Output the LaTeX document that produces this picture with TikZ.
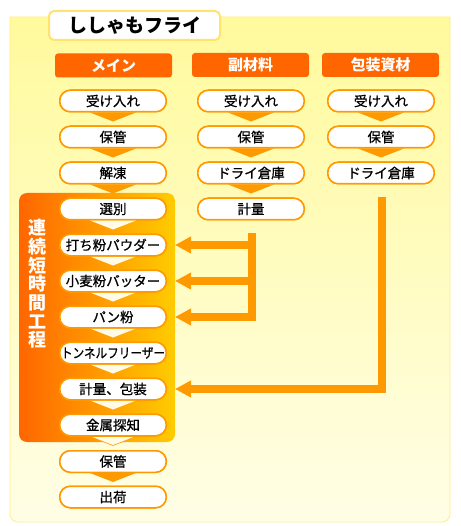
\documentclass[tikz,border=0pt]{standalone}
\usepackage{fontspec}
\newfontfamily\jp{Noto Sans CJK JP}
\newfontfamily\jpm{Noto Sans CJK JP}[FakeBold=0.8]
\usetikzlibrary{arrows.meta,calc}
\definecolor{oD}{HTML}{FF6600}
\definecolor{oL}{HTML}{FF9900}
\definecolor{gold}{HTML}{FFCC00}
\definecolor{bgT}{HTML}{FFFA9C}
\definecolor{bgB}{HTML}{FFFEE6}
\definecolor{bgEdge}{HTML}{FFEE88}
\definecolor{titleEdge}{HTML}{FFE36E}
\definecolor{paleTri}{HTML}{FFFBE6}
\begin{document}
\begin{tikzpicture}[x=1pt,y=-1pt,
  stepbox/.style={draw=oL, line width=1.5pt, fill=white, rounded corners=10.5pt,
    minimum width=106.5pt, minimum height=21.5pt, inner sep=0pt,
    font=\jpm\fontsize{13.5}{14}\selectfont},
  headbox/.style={fill=oD, rounded corners=3pt, minimum width=117pt, minimum height=24pt,
    inner sep=0pt, text=white, font=\jp\bfseries\fontsize{15}{16}\selectfont},
  conn/.style={draw=oL, line width=8pt, line join=miter, -{Triangle[length=16pt,width=16pt]}}
]
\useasboundingbox (0,0) rectangle (460,526);
% background panel
\shade[top color=bgT, bottom color=bgB, draw=bgEdge, line width=0.8pt]
  (10,17) -- (450,17) -- (450,514) .. controls (450,518.4) and (446.4,522) .. (442,522)
  -- (18,522) .. controls (13.6,522) and (10,518.4) .. (10,514) -- cycle;
% title
\node[draw=titleEdge, line width=2pt, fill=white, rounded corners=5pt,
  minimum width=171pt, minimum height=29pt, inner sep=0pt,
  font=\jp\bfseries\fontsize{19}{20}\selectfont] (title) at (134.5,25.5) {ししゃもフライ};
% headers
\node[headbox] (h1) at (113.5,65.5) {メイン};
\node[headbox] (h2) at (250.5,65) {副材料};
\node[headbox] (h3) at (380.5,65) {包装資材};
% continuous process region
\shade[left color=oD, right color=gold, rounded corners=8pt] (19,193) rectangle (175,442);
\node[text=white, align=center, inner sep=0pt,
  font=\jp\bfseries\fontsize{18}{18.7}\selectfont] (vt) at (37,284)
  {連\\続\\短\\時\\間\\工\\程};
% step nodes (positions)
\path
  (113,101) node[stepbox] (a1) {受け入れ}
  (113,137) node[stepbox] (a2) {保管}
  (113,173) node[stepbox] (a3) {解凍}
  (113,209) node[stepbox] (a4) {選別}
  (113,245) node[stepbox] (a5) {打ち粉パウダー}
  (113,281) node[stepbox] (a6) {小麦粉バッター}
  (113,317) node[stepbox] (a7) {パン粉}
  (113,353) node[stepbox] (a8) {\scalebox{0.86}[1]{トンネルフリーザー}}
  (113,389) node[stepbox] (a9) {計量、包装}
  (113,425) node[stepbox] (a10) {金属探知}
  (113,461.5) node[stepbox] (a11) {保管}
  (113,497) node[stepbox] (a12) {出荷}
  (251,101) node[stepbox] (b1) {受け入れ}
  (251,137) node[stepbox] (b2) {保管}
  (251,173) node[stepbox] (b3) {ドライ倉庫}
  (251,209) node[stepbox] (b4) {計量}
  (381,101) node[stepbox] (c1) {受け入れ}
  (381,137) node[stepbox] (c2) {保管}
  (381,173) node[stepbox] (c3) {ドライ倉庫};
% chevrons
\foreach \n in {a1,a2,a3,a11,b1,b2,b3,c1,c2}
  \fill[oL] ([xshift=-23pt]\n.south) -- ([xshift=23pt]\n.south) -- ([yshift=-9pt]\n.south) -- cycle;
\foreach \n in {a4,a5,a6,a7,a8,a9}
  \fill[paleTri] ([xshift=-23pt]\n.south) -- ([xshift=23pt]\n.south) -- ([yshift=-9pt]\n.south) -- cycle;
\filldraw[fill=paleTri, draw=oL, line width=0.6pt]
  ([xshift=-23pt]a10.south) -- ([xshift=23pt]a10.south) -- ([yshift=-9pt]a10.south) -- cycle;
% redraw boxes on top of chevrons
\foreach \n/\t in {a1/受け入れ,a2/保管,a3/解凍,a4/選別,a5/打ち粉パウダー,a6/小麦粉バッター,
  a7/パン粉,a9/計量、包装,a10/金属探知,a11/保管,a12/出荷,
  b1/受け入れ,b2/保管,b3/ドライ倉庫,b4/計量,c1/受け入れ,c2/保管,c3/ドライ倉庫}
  \node[stepbox] at (\n) {\t};
\node[stepbox] at (a8) {\scalebox{0.86}[1]{トンネルフリーザー}};
% connectors
\coordinate (v2t) at (252,233);
\coordinate (v3t) at (382,197);
\draw[conn] (v2t) -- (v2t |- a7) -- ([xshift=8pt]a7.east);
\draw[conn] (v2t |- a5) -- ([xshift=8pt]a5.east);
\draw[conn] (v2t |- a6) -- ([xshift=8pt]a6.east);
\draw[conn] (v3t) -- (v3t |- a9) -- ([xshift=8pt]a9.east);
\end{tikzpicture}
\end{document}
